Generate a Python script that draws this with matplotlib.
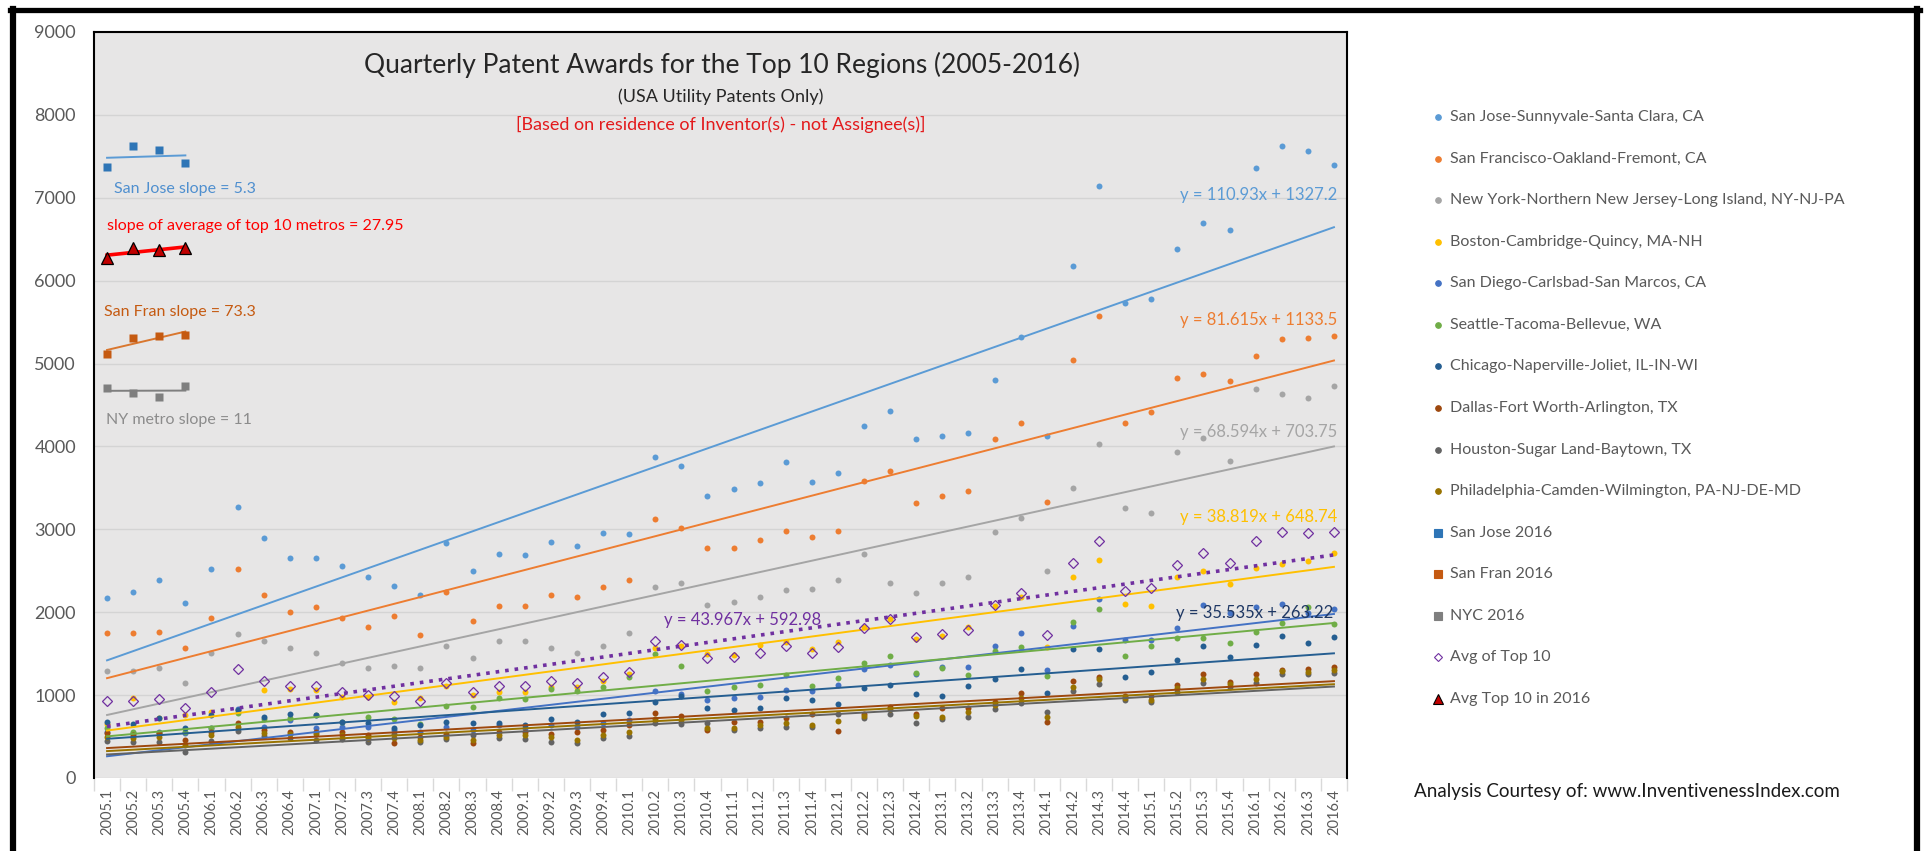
import numpy as np
import matplotlib
matplotlib.use("Agg")
import matplotlib.pyplot as plt
from matplotlib.lines import Line2D

plt.rcParams['font.family'] = ['Lato', 'DejaVu Sans']

W, H = 1929, 851

# quarter labels 2005.1 .. 2016.4
quarters = [f"{y}.{q}" for y in range(2005, 2017) for q in range(1, 5)]

# quarterly patent counts
sanjose = [2167, 2239, 2388, 2115, 2521, 3272, 2890, 2649, 2649, 2557, 2428, 2316,
           2207, 2830, 2500, 2701, 2685, 2850, 2798, 2959, 2939, 3875, 3767, 3401,
           3481, 3554, 3807, 3570, 3682, 4245, 4430, 4084, 4124, 4157, 4800, 5322,
           4124, 6179, 7139, 5725, 5777, 6384, 6697, 6609, 7361, 7622, 7566, 7401]
sanfran = [1745, 1745, 1765, 1564, 1934, 2521, 2207, 2006, 2058, 1934, 1825, 1954,
           1729, 2247, 1893, 2078, 2078, 2207, 2187, 2300, 2388, 3127, 3019, 2778,
           2778, 2870, 2979, 2910, 2979, 3586, 3698, 3312, 3401, 3457, 4084, 4285,
           3332, 5041, 5576, 4285, 4418, 4820, 4872, 4788, 5093, 5294, 5310, 5334]
newyork = [1290, 1290, 1330, 1142, 1504, 1733, 1652, 1564, 1504, 1383, 1323, 1354,
           1323, 1596, 1451, 1652, 1652, 1564, 1504, 1596, 1745, 2300, 2356, 2086,
           2119, 2187, 2267, 2279, 2388, 2701, 2352, 2227, 2356, 2428, 2963, 3132,
           2500, 3493, 4024, 3252, 3200, 3935, 4096, 3827, 4691, 4631, 4579, 4727]
boston = [650, 960, 720, 760, 800, 820, 1060, 1070, 1060, 981, 973, 920,
          961, 1109, 1000, 1033, 1040, 1100, 1100, 1170, 1250, 1572, 1592, 1495,
          1483, 1604, 1640, 1560, 1640, 1825, 1920, 1676, 1712, 1825, 2074, 2187,
          1584, 2428, 2629, 2098, 2078, 2428, 2500, 2336, 2537, 2577, 2617, 2717]
sandiego = [560, 540, 560, 540, 600, 830, 620, 700, 600, 619, 620, 580,
            560, 620, 580, 640, 600, 640, 620, 663, 700, 1044, 1011, 938,
            963, 972, 1066, 1044, 1117, 1319, 1363, 1256, 1334, 1334, 1592, 1744,
            1300, 1829, 2159, 1664, 1670, 1807, 2091, 1989, 2060, 2102, 1990, 2034]
seattle = [600, 560, 540, 560, 607, 788, 708, 720, 760, 679, 732, 708,
           648, 868, 852, 961, 957, 1070, 1049, 1100, 1222, 1495, 1351, 1049,
           1094, 1122, 1242, 1106, 1202, 1383, 1471, 1262, 1331, 1242, 1536, 1584,
           1234, 1885, 2038, 1471, 1596, 1692, 1692, 1632, 1760, 1873, 2058, 1853]
chicago = [680, 651, 720, 600, 760, 820, 732, 772, 760, 679, 660, 607,
           640, 679, 660, 659, 643, 706, 675, 769, 790, 918, 989, 845,
           825, 845, 968, 938, 896, 1087, 1117, 1011, 993, 1107, 1192, 1317,
           1020, 1551, 1551, 1220, 1278, 1419, 1592, 1459, 1607, 1715, 1630, 1698]
dallas = [540, 520, 540, 458, 560, 659, 580, 560, 560, 560, 520, 426,
          500, 530, 420, 560, 557, 536, 560, 580, 640, 790, 748, 580,
          678, 679, 727, 769, 566, 769, 853, 769, 845, 850, 913, 1020,
          680, 1175, 1220, 990, 990, 1118, 1250, 1164, 1250, 1300, 1315, 1340]
houston = [450, 438, 438, 318, 446, 571, 507, 478, 458, 470, 440, 530,
           430, 470, 520, 480, 473, 431, 422, 480, 510, 663, 650, 660,
           579, 599, 611, 620, 769, 727, 769, 663, 709, 740, 830, 900,
           800, 1049, 1135, 945, 913, 1035, 1152, 1100, 1152, 1250, 1250, 1265]
philly = [500, 478, 498, 398, 519, 620, 547, 530, 527, 520, 480, 486,
          460, 500, 460, 520, 515, 494, 460, 520, 560, 706, 700, 600,
          599, 639, 663, 643, 685, 748, 832, 748, 740, 800, 885, 964,
          740, 1100, 1192, 964, 936, 1085, 1192, 1135, 1192, 1290, 1278, 1300]
avg_top10 = [929, 929, 949, 840, 1041, 1315, 1170, 1110, 1110, 1041, 1001, 989,
             929, 1150, 1041, 1110, 1110, 1170, 1150, 1222, 1282, 1652, 1604, 1451,
             1463, 1504, 1596, 1504, 1576, 1813, 1918, 1700, 1741, 1781, 2082, 2235,
             1721, 2589, 2858, 2255, 2287, 2569, 2717, 2589, 2858, 2971, 2959, 2971]

# the 2016 quarters re-plotted at the left edge
sj_2016 = [7370, 7624, 7576, 7418]
sf_2016 = [5110, 5310, 5330, 5350]
nyc_2016 = [4710, 4650, 4600, 4730]
avg_2016 = [6270, 6400, 6370, 6390]

regions = ["San Jose-Sunnyvale-Santa Clara, CA", "San Francisco-Oakland-Fremont, CA",
           "New York-Northern New Jersey-Long Island, NY-NJ-PA", "Boston-Cambridge-Quincy, MA-NH",
           "San Diego-Carlsbad-San Marcos, CA", "Seattle-Tacoma-Bellevue, WA",
           "Chicago-Naperville-Joliet, IL-IN-WI", "Dallas-Fort Worth-Arlington, TX",
           "Houston-Sugar Land-Baytown, TX", "Philadelphia-Camden-Wilmington, PA-NJ-DE-MD"]
series = [sanjose, sanfran, newyork, boston, sandiego, seattle, chicago, dallas, houston, philly]
colors = ["#5B9BD5", "#ED7D31", "#A5A5A5", "#FFC000", "#4472C4", "#70AD47",
          "#255E91", "#9E480E", "#636363", "#997300"]

x = np.arange(len(quarters))
xn = x + 1  # Excel trendline x runs 1..48


def px(xp, yp):
    return xp / W, 1 - yp / H


fig = plt.figure(figsize=(W / 100, H / 100), dpi=100)
ax = fig.add_axes([94 / W, 1 - 778 / H, (1347 - 94) / W, (778 - 32) / H])
ax.set_facecolor("#E7E6E6")

for vals, c in zip(series, colors):
    ax.plot(x, vals, "o", ms=4.3, color=c, mec="none", zorder=3)
    k, b = np.polyfit(xn, vals, 1)
    ax.plot(x, k * xn + b, "-", color=c, lw=1.4, zorder=4)

# average of the top 10
ax.plot(x, avg_top10, "D", ms=5, mfc="none", mec="#7030A0", mew=0.9, zorder=5)
k, b = np.polyfit(xn, avg_top10, 1)
ax.plot(x, k * xn + b, ":", color="#7030A0", lw=2.6, zorder=5)

# 2016 quarters as squares / triangles with their own fits
small = [(sj_2016, "s", "#2E75B6", "#5B9BD5", 1.4),
         (sf_2016, "s", "#C55A11", "#D9772F", 1.4),
         (nyc_2016, "s", "#7F7F7F", "#7F7F7F", 1.4)]
x4 = np.arange(4)
for vals, m, c, lc, lw in small:
    ax.plot(x4, vals, m, ms=6, color=c, mec="none", zorder=5)
    k, b = np.polyfit(x4, vals, 1)
    ax.plot(x4, k * x4 + b, "-", color=lc, lw=lw, zorder=4)
k, b = np.polyfit(x4, avg_2016, 1)
ax.plot(x4, k * x4 + b, "-", color="#FF0000", lw=2.6, zorder=4)
ax.plot(x4, avg_2016, "^", ms=8, mfc="#C00000", mec="black", mew=0.9, zorder=6)

ax.set_xlim(-0.5, len(quarters) - 0.5)
ax.set_ylim(0, 9000)
ax.set_yticks(range(0, 9001, 1000))
ax.grid(axis="y", color="#D4D4D4", lw=1)
ax.set_axisbelow(True)
ax.tick_params(axis="y", length=0, pad=13, labelsize=13, labelcolor="#595959")
ax.set_xticks(x)
ax.set_xticklabels(quarters, rotation=90, fontsize=10.5, color="#595959")
ax.set_xticks(np.arange(-0.5, len(quarters), 1), minor=True)
ax.tick_params(axis="x", which="major", length=0, pad=8)
ax.tick_params(axis="x", which="minor", length=9, color="#D9D9D9", width=1)
for s in ["top", "right", "left"]:
    ax.spines[s].set_color("black")
    ax.spines[s].set_linewidth(1.5)
ax.spines["bottom"].set_visible(False)

# titles
fig.text(*px(722, 65), "Quarterly Patent Awards for the Top 10 Regions (2005-2016)",
         ha="center", va="center", fontsize=19, color="#262626")
fig.text(*px(721, 97), "(USA Utility Patents Only)", ha="center", va="center",
         fontsize=13, color="#262626")
fig.text(*px(721, 124), "[Based on residence of Inventor(s) - not Assignee(s)]",
         ha="center", va="center", fontsize=13, color="#E31A1C")

# trendline equations
eqs = [("y = 110.93x + 1327.2", 195, "#5B9BD5"),
       ("y = 81.615x + 1133.5", 320, "#ED7D31"),
       ("y = 68.594x + 703.75", 432, "#A5A5A5"),
       ("y = 38.819x + 648.74", 517, "#FFC000")]
for t, yp, c in eqs:
    fig.text(*px(1337, yp), t, ha="right", va="center", fontsize=12, color=c)
fig.text(*px(664, 620), "y = 43.967x + 592.98", ha="left", va="center",
         fontsize=12, color="#7030A0")
fig.text(*px(1176, 613), "y = 35.535x + 263.22", ha="left", va="center",
         fontsize=12, color="#1F3864")

# slope notes
notes = [("San Jose slope = 5.3", 114, 189, "#4F8FCF"),
         ("slope of average of top 10 metros = 27.95", 107, 226, "#FF0000"),
         ("San Fran slope = 73.3", 104, 312, "#C55A11"),
         ("NY metro slope = 11", 106, 420, "#8C8C8C")]
for t, xp, yp, c in notes:
    fig.text(*px(xp, yp), t, ha="left", va="center", fontsize=11.5, color=c)

# legend
leg = [(r, "o", c, c, 4) for r, c in zip(regions, colors)]
leg += [("San Jose 2016", "s", "#2E75B6", "#2E75B6", 5.5),
        ("San Fran 2016", "s", "#C55A11", "#C55A11", 5.5),
        ("NYC 2016", "s", "#7F7F7F", "#7F7F7F", 5.5),
        ("Avg of Top 10", "D", "none", "#7030A0", 4.5),
        ("Avg Top 10 in 2016", "^", "#C00000", "black", 7)]
for i, (lab, m, fc, ec, ms) in enumerate(leg):
    yp = 117 + 41.57 * i
    mx, my = px(1438, yp)
    fig.add_artist(Line2D([mx], [my], marker=m, ms=ms, mfc=fc, mec=ec,
                          mew=0.8, ls="none"))
    fig.text(*px(1450, yp), lab, ha="left", va="center", fontsize=11.5, color="#595959")

fig.text(*px(1414, 792), "Analysis Courtesy of: www.InventivenessIndex.com",
         ha="left", va="center", fontsize=13.5, color="#1A1A1A")

# outer black frame (bottom edge is cut off)
fig.add_artist(Line2D([13 / W, 13 / W], [0, 1 - 9 / H], color="black", lw=4.5))
fig.add_artist(Line2D([1917 / W, 1917 / W], [0, 1 - 9 / H], color="black", lw=4.5))
fig.add_artist(Line2D([10 / W, 1920 / W], [1 - 9.5 / H, 1 - 9.5 / H], color="black", lw=3.8))

fig.savefig("out.png", dpi=100, facecolor="white")
